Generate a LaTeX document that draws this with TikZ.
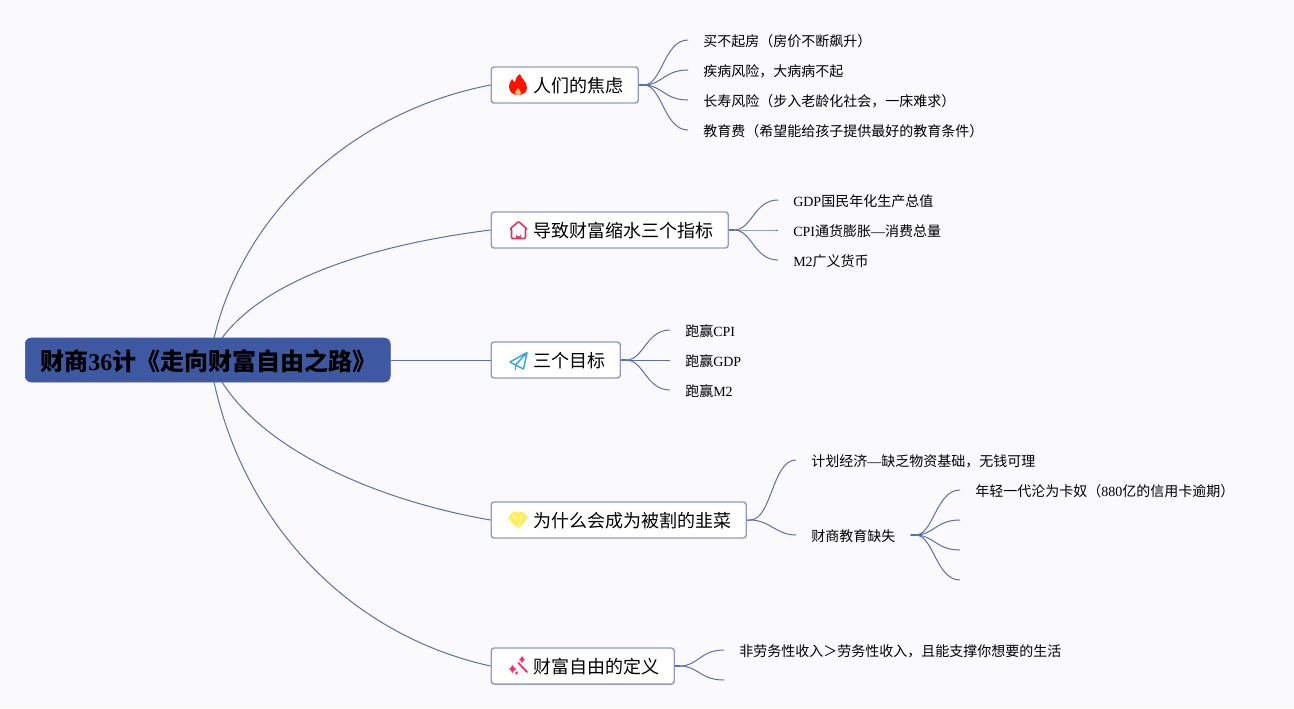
\documentclass[tikz,border=0pt]{standalone}
\usepackage{fontspec}
\setmainfont{Noto Sans CJK SC}
\newfontfamily\lat{Liberation Serif}
\definecolor{bgc}{HTML}{FAFAFC}
\definecolor{rootc}{HTML}{3F58A2}
\definecolor{edgec}{HTML}{5C6FA8}
\definecolor{boxc}{HTML}{8F9CC6}
\begin{document}
\begin{tikzpicture}[x=0.75pt,y=-0.75pt,
  rootbox/.style={anchor=west,fill=rootc,draw=rootc,rounded corners=4.5pt,minimum height=33pt,text width=251.25pt,align=left,inner xsep=11.25pt,inner ysep=0pt,text height=18pt,text depth=1.6pt,font=\fontsize{18pt}{21pt}\selectfont\bfseries},
  branchbox/.style={anchor=west,fill=white,draw=boxc,line width=1.1pt,rounded corners=2.2pt,minimum height=27pt,inner xsep=11.25pt,inner ysep=0pt,text height=13pt,text depth=1.5pt,font=\fontsize{13.5pt}{16pt}\selectfont},
  leaf/.style={anchor=west,inner xsep=11.25pt,inner ysep=0pt,text height=10pt,text depth=1pt,font=\fontsize{10.5pt}{12pt}\selectfont},
  edge/.style={draw=edgec,line width=0.75pt},
  stub/.style={draw=edgec,line width=1.4pt},
  ]
\useasboundingbox (0,0) rectangle (1294,708);
\fill[bgc] (0,0) rectangle (1294,708);

% root
\node[rootbox] (root) at (25,360) {财商{\lat\bfseries 36}计《走向财富自由之路》};
\coordinate (rn1) at (214,338);
\coordinate (rn2) at (222,338);
\coordinate (rs4) at (222,382);
\coordinate (rs5) at (214,382);

% branches
\node[branchbox] (b1) at (490.5,85) {\hspace{20.25pt}人们的焦虑};
\node[branchbox] (b2) at (490.5,230) {\hspace{20.25pt}导致财富缩水三个指标};
\node[branchbox] (b3) at (490.5,360) {\hspace{20.25pt}三个目标};
\node[branchbox] (b4) at (490.5,520) {\hspace{20.25pt}为什么会成为被割的韭菜};
\node[branchbox] (b5) at (490.5,666) {\hspace{20.25pt}财富自由的定义};

% leaves
\node[leaf] (l11) at (688,40) {买不起房（房价不断飙升）};
\node[leaf] (l12) at (688,70) {疾病风险，大病病不起};
\node[leaf] (l13) at (688,100) {长寿风险（步入老龄化社会，一床难求）};
\node[leaf] (l14) at (688,130) {教育费（希望能给孩子提供最好的教育条件）};
\node[leaf] (l21) at (778,200) {{\lat GDP}国民年化生产总值};
\node[leaf] (l22) at (778,230) {{\lat CPI}通货膨胀{\lat —}消费总量};
\node[leaf] (l23) at (778,260) {{\lat M2}广义货币};
\node[leaf] (l31) at (670,330) {跑赢{\lat CPI}};
\node[leaf] (l32) at (670,360) {跑赢{\lat GDP}};
\node[leaf] (l33) at (670,390) {跑赢{\lat M2}};
\node[leaf] (l41) at (796,460) {计划经济{\lat —}缺乏物资基础，无钱可理};
\node[leaf] (l42) at (796,535) {财商教育缺失};
\node[leaf] (l421) at (960,490) {年轻一代沦为卡奴（{\lat 880}亿的信用卡逾期）};
\coordinate (l422) at (960,520);
\coordinate (l423) at (960,550);
\coordinate (l424) at (960,580);
\node[leaf] (l51) at (724,650) {非劳务性收入＞劳务性收入，且能支撑你想要的生活};
\coordinate (l52) at (724,680);

% root connectors
\draw[edge] (rn1) .. controls (243,215) and (350,112) .. (b1.west);
\draw[edge] (rn2) .. controls (265,280) and (370,245) .. (b2.west);
\draw[edge] (root.east) -- (b3.west);
\draw[edge] (rs4) .. controls (265,450) and (375,500) .. (b4.west);
\draw[edge] (rs5) .. controls (245,525) and (350,635) .. (b5.west);

% branch fans
\foreach \b/\l in {b1/l11,b1/l12,b1/l13,b1/l14,b2/l21,b2/l22,b2/l23,b3/l31,b3/l32,b3/l33,b5/l51,b5/l52}{
  \draw[edge] (\b.east) -- ++(5,0) .. controls +(18,0) and +(-24,0) .. (\l.west);
}
\foreach \b in {b1,b2,b3,b5}{\draw[stub] (\b.east) -- ++(5,0);}
\draw[edge] (b4.east) -- ++(3,0) .. controls +(22,0) and +(-24,0) .. (l41.west);
\draw[edge] (b4.east) -- ++(3,0) .. controls +(20,0) and +(-20,0) .. (l42.west);
\foreach \l in {l421,l422,l423,l424}{
  \draw[edge] (l42.east) -- ++(5,0) .. controls +(18,0) and +(-24,0) .. (\l.west);
}
\draw[stub] (l42.east) -- ++(5,0);

% flame icon
\begin{scope}[shift={(518,85)}]
\fill[red!85!orange] (2,-11) .. controls (3,-6) and (9,-4) .. (9,3)
  .. controls (9,8) and (4,10) .. (0,10)
  .. controls (-5,10) and (-9,7) .. (-9,2)
  .. controls (-9,-2) and (-7,-4) .. (-6,-6)
  .. controls (-5,-4) and (-4,-3) .. (-3,-3)
  .. controls (-3,-6) and (-1,-9) .. (2,-11) -- cycle;
\fill[orange!55!white] (0,3) .. controls (1,5) and (3,6) .. (3,8) .. controls (3,9.5) and (1.5,10) .. (0,10) .. controls (-1.5,10) and (-3,9.5) .. (-3,8) .. controls (-3,6) and (-1,5) .. (0,3) -- cycle;
\end{scope}

% house icon
\begin{scope}[shift={(518.5,230)}]
\definecolor{hc}{HTML}{E0355F}
\draw[hc,line width=1.2pt,line join=round,rounded corners=0.8pt] (0,-8.5) -- (8.5,-1) -- (7,-1) -- (7,8.5) -- (-7,8.5) -- (-7,-1) -- (-8.5,-1) -- cycle;
\fill[hc] (-2.5,8.5) -- (-2.5,4) arc[start angle=180,end angle=0,radius=2.5] -- (2.5,8.5) -- cycle;
\end{scope}

% plane icon
\begin{scope}[shift={(518.5,361)}]
\definecolor{pc}{HTML}{38A6E2}
\draw[pc,line width=1.1pt,line join=round] (8.5,-8.5) -- (-8.5,1) -- (-3,4) -- (8.5,-8.5) -- (5,8) -- (-3,4) -- (-3,9);
\end{scope}

% diamond icon
\begin{scope}[shift={(518,520)}]
\definecolor{dc}{HTML}{FFEB50}
\fill[dc] (-5.5,-8) -- (5.5,-8) -- (10,-2) -- (0,9) -- (-10,-2) -- cycle;
\draw[white!50!dc,line width=0.6pt] (-10,-2) -- (10,-2) (-5.5,-8) -- (-3.5,-2) -- (0,9) -- (3.5,-2) -- (5.5,-8) (-3.5,-2) -- (0,-8) -- (3.5,-2);
\end{scope}

% wand icon
\begin{scope}[shift={(518.5,666)}]
\definecolor{wc}{HTML}{F0306E}
\draw[wc,line width=1.4pt,line cap=round] (0,-3) -- (8.5,6);
\fill[wc] (3.5,-10) -- (4.8,-7.8) -- (6.5,-6.5) -- (4.8,-5.2) -- (3.5,-3) -- (2.2,-5.2) -- (0.5,-6.5) -- (2.2,-7.8) -- cycle;
\fill[wc] (-6,-1) -- (-4.4,1.5) -- (-2,3) -- (-4.4,4.5) -- (-6,7) -- (-7.6,4.5) -- (-9.5,3) -- (-7.6,1.5) -- cycle;
\fill[wc] (-2,7) circle[radius=1.7];
\end{scope}
\end{tikzpicture}
\end{document}
